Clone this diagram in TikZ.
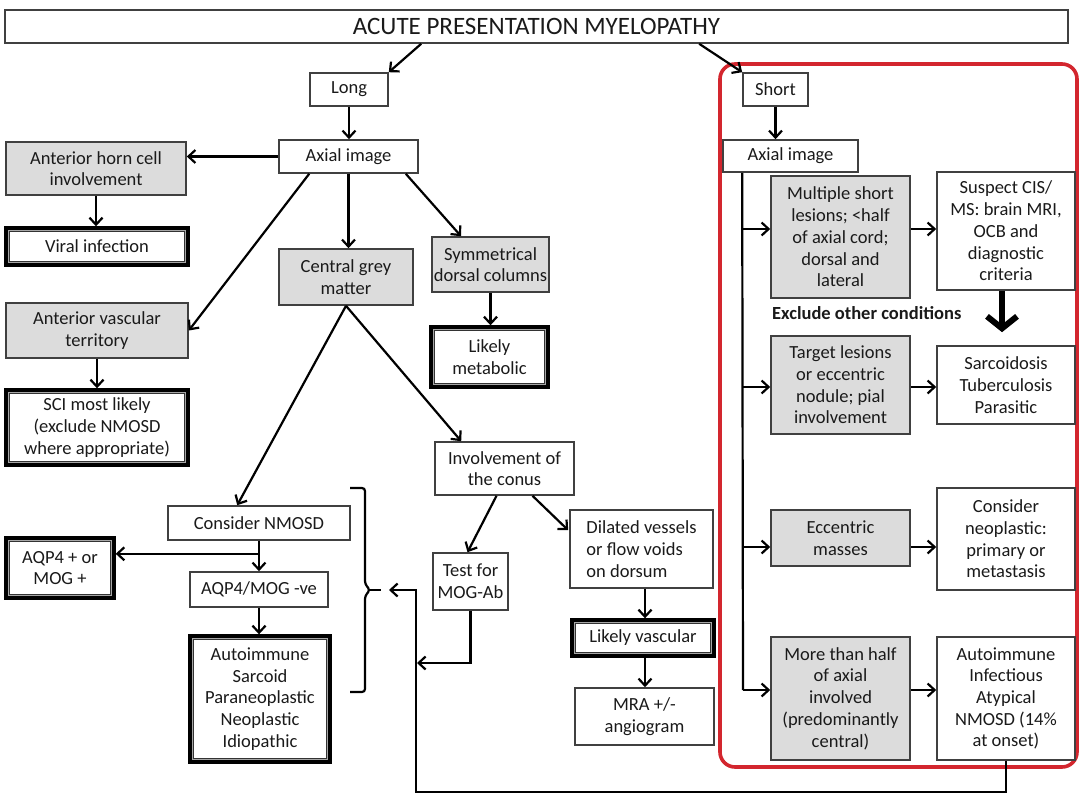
\documentclass[tikz,border=0pt]{standalone}
\usepackage{fontspec}
\setmainfont{Carlito}
\usetikzlibrary{arrows.meta,calc}
\definecolor{redbox}{HTML}{D3262E}
\definecolor{boxgray}{HTML}{DCDCDC}
\definecolor{txt}{HTML}{1A1A1A}
\tikzset{
  box/.style={draw=black!75, line width=1.6pt, fill=white, align=center, inner sep=2pt, text=txt, font=\fontsize{18.5}{21.7}\selectfont},
  gbox/.style={box, fill=boxgray},
  dbl/.style={box, draw=black, line width=3.4pt, fill=black!35, path picture={\draw[line width=1.2pt, draw=black!80, fill=white] ([shift={(3.6pt,-3.6pt)}]path picture bounding box.north west) rectangle ([shift={(-3.6pt,3.6pt)}]path picture bounding box.south east);}},
  arr/.style={line width=2.2pt, -{Straight Barb[length=7pt,width=13pt,line width=2.2pt]}},
  ln/.style={line width=2.2pt},
}
\begin{document}
\begin{tikzpicture}[x=1pt,y=-1pt]
\useasboundingbox (0,0) rectangle (1080,798);
\fill[white] (0,0) rectangle (1080,798);
% red frame
\draw[redbox, line width=3.6pt, rounded corners=15pt] (720,64) rectangle (1077,767);
% title
\node[box, minimum width=1063, minimum height=33, font=\fontsize{25}{28}\selectfont] (title) at (536.5,26.5) {ACUTE PRESENTATION MYELOPATHY};
% left branch
\node[box, minimum width=78, minimum height=33] (long) at (349,89.5) {Long};
\node[box, minimum width=139, minimum height=33] (axL) at (348.5,156.5) {Axial image};
\node[gbox, minimum width=180, minimum height=53] (ahc) at (96,168.5) {Anterior horn cell\\involvement};
\node[dbl, minimum width=182, minimum height=37] (viral) at (97,246.5) {Viral infection};
\node[gbox, minimum width=182, minimum height=55] (avt) at (97,330.5) {Anterior vascular\\territory};
\node[dbl, minimum width=182, minimum height=75] (sci) at (97,427.5) {SCI most likely\\(exclude NMOSD\\where appropriate)};
\node[gbox, minimum width=134, minimum height=56] (cgm) at (346,277) {Central grey\\matter};
\node[gbox, minimum width=115, minimum height=55] (sym) at (490.5,264.5) {Symmetrical\\dorsal columns};
\node[dbl, minimum width=117, minimum height=60] (met) at (489.5,357) {Likely\\metabolic};
\node[box, minimum width=182, minimum height=34] (nmosd) at (259,523) {Consider NMOSD};
\node[dbl, minimum width=108, minimum height=60] (aqp) at (60,568) {AQP4 + or\\MOG +};
\node[box, minimum width=138, minimum height=35] (neg) at (259,589.5) {AQP4/MOG -ve};
\node[dbl, minimum width=140, minimum height=126] (auto) at (260,699) {Autoimmune\\Sarcoid\\Paraneoplastic\\Neoplastic\\Idiopathic};
\node[box, minimum width=139, minimum height=53] (conus) at (504.5,468.5) {Involvement of\\the conus};
\node[box, minimum width=75, minimum height=57] (mog) at (470.5,581.5) {Test for\\MOG-Ab};
\node[box, minimum width=143, minimum height=78, align=left] (dil) at (641.5,549) {Dilated vessels\\or flow voids\\on dorsum};
\node[dbl, minimum width=142, minimum height=36] (vasc) at (643,638) {Likely vascular};
\node[box, minimum width=139, minimum height=57] (mra) at (644.5,716.5) {MRA +/-\\angiogram};
% right branch
\node[box, minimum width=65, minimum height=33] (short) at (775.5,89.5) {Short};
\node[box, minimum width=135, minimum height=32] (axR) at (790.5,156) {Axial image};
\node[gbox, minimum width=139, minimum height=122] (mult) at (840.5,237) {Multiple short\\lesions; <half\\of axial cord;\\dorsal and\\lateral};
\node[box, minimum width=138, minimum height=118] (susp) at (1006,231) {Suspect CIS/\\MS: brain MRI,\\OCB and\\diagnostic\\criteria};
\node[font=\bfseries\fontsize{18.5}{21}\selectfont, text=txt, anchor=west, inner sep=0pt] (excl) at (772,313) {Exclude other conditions};
\node[gbox, minimum width=139, minimum height=98] (targ) at (840.5,385) {Target lesions\\or eccentric\\nodule; pial\\involvement};
\node[box, minimum width=138, minimum height=78] (sarc) at (1006,385) {Sarcoidosis\\Tuberculosis\\Parasitic};
\node[gbox, minimum width=139, minimum height=56] (ecc) at (840.5,538) {Eccentric\\masses};
\node[box, minimum width=138, minimum height=102] (neo) at (1006,539) {Consider\\neoplastic:\\primary or\\metastasis};
\node[gbox, minimum width=139, minimum height=123] (more) at (840.5,698.5) {More than half\\of axial\\involved\\(predominantly\\central)};
\node[box, minimum width=138, minimum height=123] (autoR) at (1006,698.5) {Autoimmune\\Infectious\\Atypical\\NMOSD (14\%\\at onset)};
% connectors left
\draw[arr] ($(title.south west)+(417,0)$) -- (long.north east);
\draw[arr] ($(title.south west)+(695,0)$) -- (short.north west);
\draw[arr] (long.south) -- (long.south |- axL.north);
\draw[arr] (axL.west) -- (ahc.east |- axL.west);
\draw[arr] (ahc.south) -- (ahc.south |- viral.north);
\draw[arr] ($(axL.south west)+(31,0)$) -- (avt.east);
\draw[arr] (avt.south) -- (avt.south |- sci.north);
\draw[arr] (axL.south) -- (axL.south |- cgm.north);
\draw[arr] ($(axL.south east)+(-13,0)$) -- ($(sym.north west)+(30,0)$);
\draw[arr] (sym.south) -- (sym.south |- met.north);
\draw[arr] (cgm.south) -- ($(nmosd.north west)+(70,0)$);
\draw[arr] (cgm.south) -- ($(conus.north west)+(27,0)$);
\draw[arr] (nmosd.south) -- (nmosd.south |- neg.north);
\coordinate (j1) at ($(nmosd.south)+(0,13)$);
\draw[arr] (j1) -- (j1 -| aqp.east);
\draw[arr] (neg.south) -- (neg.south |- auto.north);
\draw[arr] ($(conus.south)+(-8,0)$) -- ($(mog.north)+(-3,0)$);
\draw[arr] ($(conus.south)+(28,0)$) -- ($(dil.north west)+(-1,21)$);
\coordinate (cx) at (645,0);
\draw[arr] (dil.south -| cx) -- (vasc.north -| cx);
\draw[arr] (vasc.south -| cx) -- (mra.north -| cx);
% bracket
\draw[ln, rounded corners=3pt] (350,488) -- (365,488) -- (365,584) -- (370,590) -- (365,596) -- (365,692) -- (350,692);
\draw[ln] (370,590) -- (381,590);
\coordinate (tip) at (389,590);
\coordinate (bl) at (416,792);
\coordinate (mj) at (417,663);
\draw[arr] (autoR.south) -- (autoR.south |- bl) -- (bl) -- (bl |- tip) -- (tip);
\draw[arr] (mog.south) |- (mj);
% connectors right
\draw[arr] (short.south) -- (short.south |- axR.north);
\coordinate (v0) at ($(axR.south west)+(20,0)$);
\coordinate (v1) at (743,229);
\coordinate (v2) at (743,387);
\coordinate (v3) at (743,547);
\coordinate (v4) at (743,690);
\draw[ln] (v0) -- (v4);
\draw[arr] (v1) -- (v1 -| mult.west);
\draw[arr] (v2) -- (v2 -| targ.west);
\draw[arr] (v3) -- (v3 -| ecc.west);
\draw[arr] (v4) -- (v4 -| more.west);
\draw[arr] (v1 -| mult.east) -- (v1 -| susp.west);
\draw[arr] (v2 -| targ.east) -- (v2 -| sarc.west);
\draw[arr] (v3 -| ecc.east) -- (v3 -| neo.west);
\draw[arr] (v4 -| more.east) -- (v4 -| autoR.west);
\draw[line width=6pt, -{Straight Barb[length=12pt,width=30pt,line width=6pt]}] ($(susp.south)+(-4,0)$) -- ($(sarc.north)+(-4,-13)$);
\end{tikzpicture}
\end{document}
